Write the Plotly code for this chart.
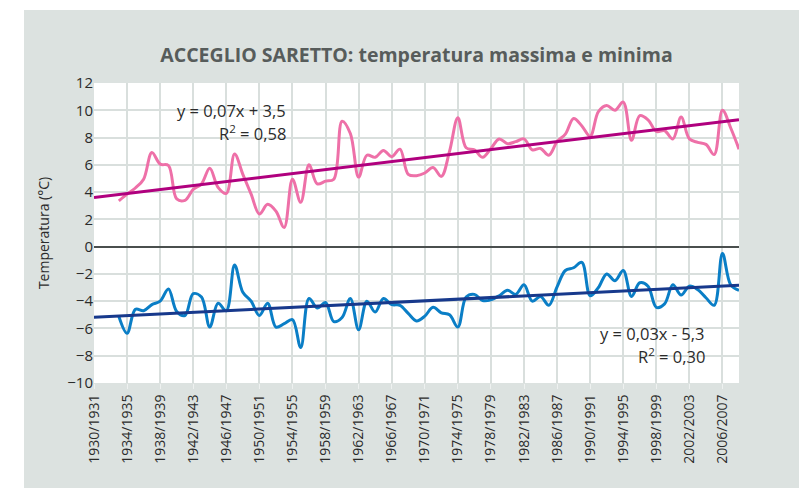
import numpy as np
import plotly.graph_objects as go

# Seasons on the category axis (1930/1931 ... 2008/2009)
start_years = list(range(1930, 2009))
seasons = [f"{y}/{y + 1}" for y in start_years]

tick_labels = ["1930/1931", "1934/1935", "1938/1939", "1942/1943", "1946/1947",
               "1950/1951", "1954/1955", "1958/1959", "1962/1963", "1966/1967",
               "1970/1971", "1974/1975", "1978/1979", "1982/1983", "1986/1987",
               "1990/1991", "1994/1995", "1998/1999", "2002/2003", "2006/2007"]

# Mean maximum temperature (°C), from 1933/1934 to 2008/2009
t_max = [3.35, 3.85, 4.3, 4.95, 6.9, 6.05, 5.95, 3.5, 3.4, 4.2,
         4.6, 5.75, 4.35, 3.9, 6.8, 5.3, 3.85, 2.4, 3.1, 2.6,
         1.4, 4.95, 3.25, 6.0, 4.6, 4.8, 4.95, 9.2, 8.3, 5.1,
         6.7, 6.55, 7.05, 6.6, 7.15, 5.3, 5.2, 5.4, 5.8, 5.15,
         7.0, 9.45, 7.25, 7.1, 6.55, 7.2, 7.9, 7.55, 7.7, 7.9,
         7.1, 7.2, 6.7, 7.7, 8.25, 9.4, 8.85, 8.1, 9.9, 10.35,
         10.0, 10.6, 7.8, 9.6, 9.3, 8.45, 8.5, 7.9, 9.5, 7.9,
         7.65, 7.5, 6.75, 10.0, 8.7, 7.15]

# Mean minimum temperature (°C), from 1933/1934 to 2008/2009
t_min = [-5.1, -6.35, -4.6, -4.7, -4.25, -4.0, -3.1, -4.75, -5.05, -3.45,
         -3.7, -5.9, -4.15, -4.7, -1.35, -3.35, -4.0, -5.05, -4.15, -5.9,
         -5.65, -5.35, -7.4, -3.8, -4.5, -4.1, -5.5, -5.2, -3.8, -6.1,
         -4.0, -4.8, -3.8, -4.25, -4.3, -4.9, -5.45, -5.1, -4.45, -4.85,
         -5.0, -5.9, -3.7, -3.5, -3.95, -3.9, -3.6, -3.2, -3.5, -2.8,
         -4.0, -3.65, -4.3, -2.95, -1.75, -1.55, -1.15, -3.6, -3.0, -2.0,
         -2.5, -1.75, -3.65, -2.65, -2.9, -4.45, -4.2, -2.8, -3.55, -2.9,
         -3.15, -3.75, -4.3, -0.5, -2.8, -3.2]

first = len(seasons) - len(t_max)
data_seasons = seasons[first:]
idx_all = np.arange(len(seasons))
idx_data = idx_all[first:]

fit_max = np.polyfit(idx_data, t_max, 1)
fit_min = np.polyfit(idx_data, t_min, 1)
trend_x = [seasons[0], seasons[-1]]
trend_max = list(np.polyval(fit_max, [idx_all[0], idx_all[-1]]))
trend_min = list(np.polyval(fit_min, [idx_all[0], idx_all[-1]]))

FONT = "Open Sans"
TXT = "#2b2b2b"

fig = go.Figure()
fig.add_trace(go.Scatter(x=data_seasons, y=t_max, mode="lines",
                         line=dict(color="#ee70a8", width=3, shape="spline", smoothing=1),
                         showlegend=False, hoverinfo="skip"))
fig.add_trace(go.Scatter(x=trend_x, y=trend_max, mode="lines",
                         line=dict(color="#b0007e", width=3),
                         showlegend=False, hoverinfo="skip"))
fig.add_trace(go.Scatter(x=data_seasons, y=t_min, mode="lines",
                         line=dict(color="#0a7ec6", width=3, shape="spline", smoothing=1),
                         showlegend=False, hoverinfo="skip"))
fig.add_trace(go.Scatter(x=trend_x, y=trend_min, mode="lines",
                         line=dict(color="#17398c", width=3),
                         showlegend=False, hoverinfo="skip"))

# The page body adds an 8 px offset; the figure is sized to fill the rest of the window.
OFF = 8
W, H = 807 - OFF, 488 - OFF
L, R, T, B = 94 - OFF, 807 - 739, 83 - OFF, 488 - 383
pw, ph = W - L - R, H - T - B

def px_x(px):
    return (px - OFF - L) / pw

def px_y(py):
    return (H - B - (py - OFF)) / ph

shapes = [
    dict(type="rect", xref="paper", yref="paper", layer="below",
         x0=px_x(24), x1=px_x(812), y0=px_y(492), y1=px_y(10),
         fillcolor="#dce2e0", line=dict(width=0)),
    dict(type="rect", xref="paper", yref="paper", layer="below",
         x0=0, x1=1, y0=0, y1=1, fillcolor="white", line=dict(width=0)),
]

ann_font = dict(family=FONT, size=16.5, color=TXT)
annotations = [
    dict(text="y = 0,07x + 3,5", xref="paper", yref="paper", x=px_x(288), y=px_y(110.5),
         xanchor="right", yanchor="middle", showarrow=False, font=ann_font),
    dict(text="R<sup>2</sup> = 0,58", xref="paper", yref="paper", x=px_x(288), y=px_y(133),
         xanchor="right", yanchor="middle", showarrow=False, font=ann_font),
    dict(text="y = 0,03x - 5,3", xref="paper", yref="paper", x=px_x(707), y=px_y(333),
         xanchor="right", yanchor="middle", showarrow=False, font=ann_font),
    dict(text="R<sup>2</sup> = 0,30", xref="paper", yref="paper", x=px_x(707), y=px_y(355.5),
         xanchor="right", yanchor="middle", showarrow=False, font=ann_font),
]

fig.update_layout(
    width=W, height=H,
    margin=dict(l=L, r=R, t=T, b=B, pad=0),
    paper_bgcolor="white", plot_bgcolor="rgba(0,0,0,0)",
    font=dict(family=FONT, color=TXT),
    title=dict(text="<b>ACCEGLIO SARETTO: temperatura massima e minima</b>",
               x=0.5, xref="paper", xanchor="center", y=1 - (55 - OFF) / H, yref="container",
               yanchor="middle", font=dict(family=FONT, size=19.5, color="#575c5b")),
    shapes=shapes, annotations=annotations,
)
fig.update_xaxes(type="category", categoryorder="array", categoryarray=seasons,
                 range=[0, len(seasons) - 1],
                 tickmode="array", tickvals=tick_labels, ticktext=tick_labels,
                 tickangle=-90, tickfont=dict(family=FONT, size=14, color=TXT),
                 showgrid=True, gridcolor="#d9dfdd", gridwidth=1.5,
                 ticks="outside", ticklen=5, tickcolor="#eef1f0",
                 showline=False, zeroline=False)
fig.update_yaxes(range=[-10, 12], dtick=2, tick0=0,
                 tickfont=dict(family=FONT, size=15, color=TXT),
                 showgrid=True, gridcolor="#d9dfdd", gridwidth=1.5,
                 zeroline=True, zerolinecolor="#4a4f4e", zerolinewidth=1.5,
                 ticks="", showline=False,
                 title=dict(text="Temperatura (°C)", standoff=14,
                            font=dict(family=FONT, size=14, color=TXT)))

fig.write_html("out.html")
